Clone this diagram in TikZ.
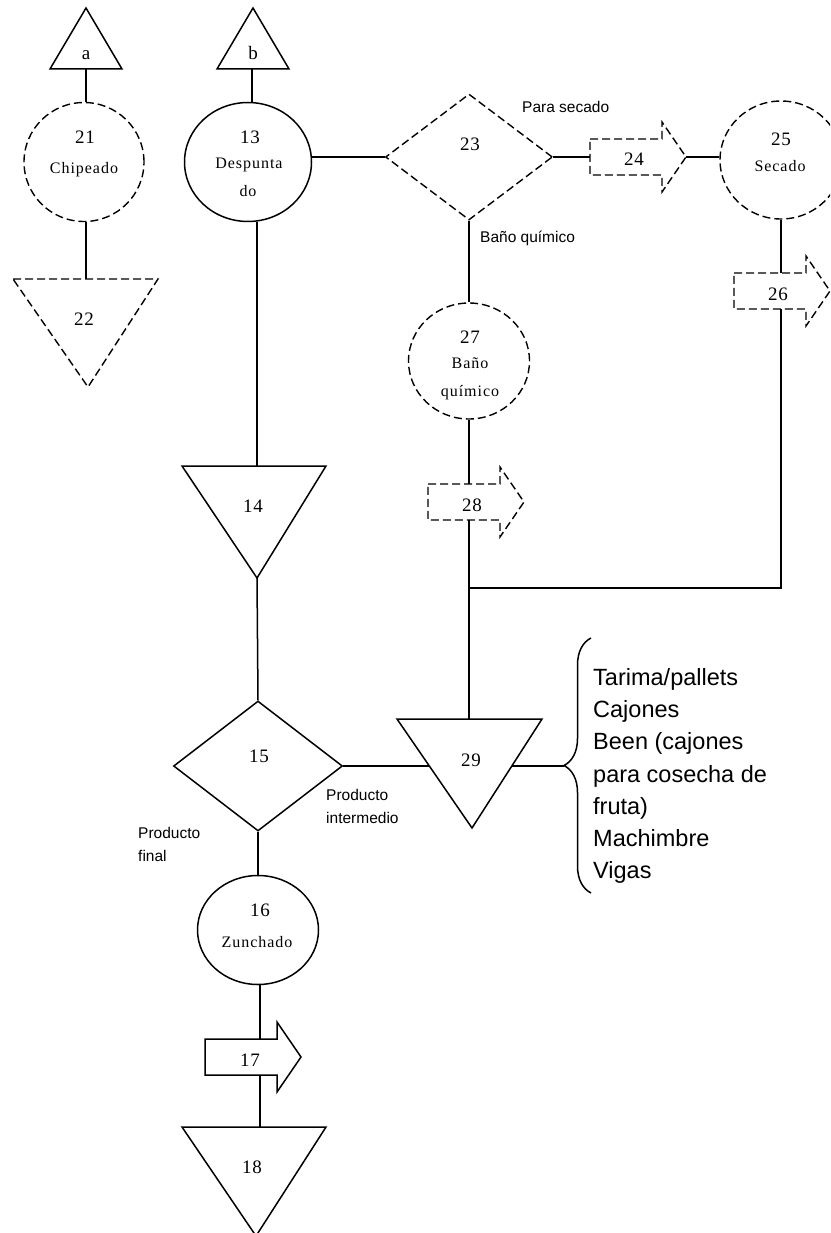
\documentclass[tikz,border=0pt]{standalone}
\usepackage{fontspec}
\setmainfont{Liberation Serif}
\setsansfont{Liberation Sans}
\newfontfamily\spacedserif{Liberation Serif}[LetterSpace=6.0]
\newfontfamily\spacednum{Liberation Serif}[LetterSpace=4.0]
\usetikzlibrary{shapes.geometric, decorations.pathreplacing}

\begin{document}
\begin{tikzpicture}[
    x=1pt, y=-1pt,
    plainline/.style={draw, line width=1.5pt},
    dashline/.style={draw, line width=1.4pt, dash pattern=on 8pt off 4pt},
    opcircle/.style={ellipse, inner sep=0pt},
    opdiamond/.style={diamond, inner sep=0pt},
    num/.style={font=\spacednum\fontsize{19}{21}\selectfont, anchor=base, inner sep=0pt},
    lbl/.style={font=\spacedserif\fontsize{16}{18}\selectfont, anchor=base, inner sep=0pt},
    note/.style={font=\sffamily\fontsize{15.5}{23}\selectfont, inner sep=0pt, align=left},
    link/.style={line width=1.5pt}
]
\clip (0,0) rectangle (830,1233);

% triangulos de entrada
\draw[plainline] (50,69) -- (122,69) -- (86,8) -- cycle;
\coordinate (ta) at (86,69);
\node[num] (talbl) at (86,60) {a};

\draw[plainline] (217,69) -- (289,69) -- (253,8) -- cycle;
\coordinate (tb) at (252,69);
\node[num] (tblbl) at (253,60) {b};

% 21 Chipeado
\node[opcircle, dashline, minimum width=120pt, minimum height=119pt] (chipeado) at (84,162) {};
\node[num] (chipnum) at (85,144) {21};
\node[lbl] (chiplbl) at (84,174) {Chipeado};

% 22
\draw[dashline] (13,279) -- (158,279) -- (88,387) -- cycle;
\coordinate (t22n) at (86,279);
\node[num] (t22lbl) at (84,325) {22};

% 13 Despuntado
\node[opcircle, plainline, minimum width=127pt, minimum height=119pt] (despuntado) at (248,162) {};
\node[num] (despnum) at (250,144) {13};
\node[lbl] (desplbl) at (249,169) {Despunta};
\node[lbl] (desplbl2) at (248,197) {do};

% 23 decision
\node[opdiamond, dashline, minimum width=167pt, minimum height=126pt] (decision23) at (469,157) {};
\node[num] (dec23num) at (470,151) {23};
\node[note, anchor=base west] (parasecado) at (522,113) {Para secado};
\node[note, anchor=base west] (parabano) at (480,243) {Baño químico};

% 24 transporte
\draw[dashline] (590,139) -- (662,139) -- (662,122) -- (686,157) -- (662,192) -- (662,175) -- (590,175) -- cycle;
\coordinate (a24w) at (590,157);
\coordinate (a24e) at (686,157);
\node[num] (a24lbl) at (634,166) {24};

% 25 Secado
\node[opcircle, dashline, minimum width=122pt, minimum height=118pt] (secado) at (781,160) {};
\node[num] (secnum) at (781,146) {25};
\node[lbl] (seclbl) at (780,172) {Secado};

% 26 transporte
\draw[dashline] (734,273) -- (806,273) -- (806,256) -- (830,291) -- (806,326) -- (806,309) -- (734,309) -- cycle;
\coordinate (a26n) at (781,273);
\coordinate (a26s) at (781,309);
\node[num] (a26lbl) at (778,300) {26};

% 27 Bano quimico
\node[opcircle, dashline, minimum width=121pt, minimum height=116pt] (bano) at (469,361) {};
\node[num] (banonum) at (470,343) {27};
\node[lbl] (banolbl) at (470,368) {Baño};
\node[lbl] (banolbl2) at (470,396) {químico};

% 28 transporte
\draw[dashline] (428,484) -- (500,484) -- (500,467) -- (524,502) -- (500,537) -- (500,520) -- (428,520) -- cycle;
\coordinate (a28n) at (469,484);
\coordinate (a28s) at (469,520);
\node[num] (a28lbl) at (472,511) {28};

% 14 almacen
\draw[plainline] (182,466) -- (326,466) -- (257,578) -- cycle;
\coordinate (t14n) at (257,466);
\coordinate (t14s) at (257,578);
\node[num] (t14lbl) at (253,512) {14};

% 15 decision
\node[opdiamond, plainline, minimum width=169pt, minimum height=130pt] (decision15) at (258,766) {};
\node[num] (dec15num) at (259,762) {15};
\node[note, anchor=north west] (intermedio) at (326,788.7) {Producto\\intermedio};
\node[note, anchor=north west] (final) at (138,826.7) {Producto\\final};

% 29 almacen
\draw[plainline] (397,719) -- (542,719) -- (472,828) -- cycle;
\coordinate (t29n) at (469,719);
\coordinate (t29w) at (429,766);
\coordinate (t29e) at (512,766);
\node[num] (t29lbl) at (471,766) {29};

% productos
\draw[link, decorate, decoration={brace, amplitude=27pt}] (591,893) -- (591,638);
\coordinate (bracetip) at (564,766);
\node[note, anchor=north west, font=\sffamily\fontsize{23.5}{32.2}\selectfont] (productos) at (593,668.2)
    {Tarima/pallets\\Cajones\\Been (cajones\\para cosecha de\\fruta)\\Machimbre\\Vigas};

% 16 Zunchado
\node[opcircle, plainline, minimum width=121pt, minimum height=109pt] (zunchado) at (258,930) {};
\node[num] (zunnum) at (260,916) {16};
\node[lbl] (zunlbl) at (257,947) {Zunchado};

% 17 transporte
\draw[plainline] (205,1039) -- (277,1039) -- (277,1022) -- (301,1057) -- (277,1092) -- (277,1075) -- (205,1075) -- cycle;
\coordinate (a17n) at (260,1039);
\coordinate (a17s) at (260,1075);
\node[num] (a17lbl) at (250,1066) {17};

% 18 almacen
\draw[plainline] (182,1127) -- (326,1127) -- (256,1236) -- cycle;
\coordinate (t18n) at (260,1127);
\node[num] (t18lbl) at (252,1173) {18};

% conexiones
\draw[link] (ta) -- (ta |- chipeado.north);
\draw[link] (t22n) -- (t22n |- chipeado.south);
\draw[link] (tb) -- (tb |- despuntado.north);
\draw[link] (decision23.west) -- (decision23.west -| despuntado.east);
\draw[link] (decision23.east) -- (a24w);
\draw[link] (a24e) -- (a24e -| secado.west);
\draw[link] (a26n) -- (a26n |- secado.south);
\coordinate (corner) at (781,588);
\coordinate (junction) at (469,588);
\draw[link] (a26s) -- (corner) -- (junction);
\draw[link] (decision23.south) -- (bano.north);
\draw[link] (bano.south) -- (a28n);
\draw[link] (a28s) -- (t29n);
\draw[link] (t14n) -- (t14n |- despuntado.south);
\draw[link] (t14s) -- (decision15.north);
\draw[link] (decision15.east) -- (t29w);
\draw[link] (t29e) -- (bracetip);
\draw[link] (decision15.south) -- (zunchado.north);
\draw[link] (a17n) -- (a17n |- zunchado.south);
\draw[link] (a17s) -- (t18n);

\end{tikzpicture}
\end{document}
